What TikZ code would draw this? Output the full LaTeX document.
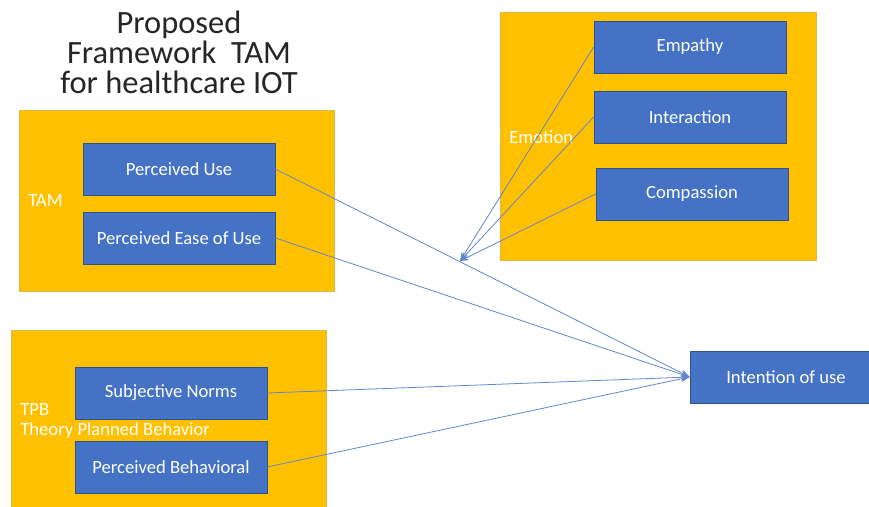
\documentclass[tikz,border=0pt]{standalone}
\usepackage{fontspec}
\setmainfont{Carlito}
\usetikzlibrary{arrows.meta,positioning}

\definecolor{boxorange}{HTML}{FFC000}
\definecolor{boxblue}{HTML}{4472C4}
\definecolor{bordblue}{HTML}{2F528F}
\definecolor{bordgold}{HTML}{E0B84A}

\begin{document}
\begin{tikzpicture}[x=0.02cm,y=-0.02cm,>=Stealth,
  group/.style={fill=boxorange,draw=bordgold,line width=0.5pt},
  item/.style={fill=boxblue,draw=bordblue,text=white,inner sep=0pt,
    minimum width=3.84cm,minimum height=1.04cm,font=\fontsize{10.6}{12}\selectfont},
  grouplabel/.style={text=white,anchor=west,inner sep=0pt,align=left,
    font=\fontsize{10.6}{11.3}\selectfont},
  link/.style={->,draw=boxblue!85,line width=0.45pt}]
  \clip (0,0) rectangle (869,507);
  \fill[white] (0,0) rectangle (869,507);

  % title
  \node[align=center,text=black!85,font=\fontsize{18.5}{17}\selectfont] (title) at (179,52)
    {Proposed\\Framework~~TAM\\for healthcare IOT};

  % groups
  \draw[group] (19,110) rectangle (334,291);
  \draw[group] (11,330) rectangle (326,515);
  \draw[group] (500,12) rectangle (816,260);

  \node[grouplabel] (tamlabel) at (28,201) {TAM};
  \node[grouplabel] (tpblabel) at (20,421) {TPB\\Theory Planned Behavior};
  \node[grouplabel] (emolabel) at (509,137) {Emotion};

  % items
  \node[item] (pu) at (179,169) {Perceived Use};
  \node[item] (peou) at (179,238) {Perceived Ease of Use};
  \node[item] (sn) at (171,393) {Subjective Norms};
  \node[item] (pb) at (171,467) {Perceived Behavioral};
  \node[item] (emp) at (690,47) {Empathy};
  \node[item] (inter) at (690,117) {Interaction};
  \node[item] (comp) at (692,194) {Compassion};
  \node[item] (intent) at (786,377) {Intention of use};

  % connectors
  \coordinate (meet) at (460,261);
  \draw[link] (pu.east) -- (intent.west);
  \draw[link] (peou.east) -- (intent.west);
  \draw[link] (sn.east) -- (intent.west);
  \draw[link] (pb.east) -- (intent.west);
  \draw[link] (emp.west) -- (meet);
  \draw[link] (inter.west) -- (meet);
  \draw[link] (comp.west) -- (meet);
\end{tikzpicture}
\end{document}
